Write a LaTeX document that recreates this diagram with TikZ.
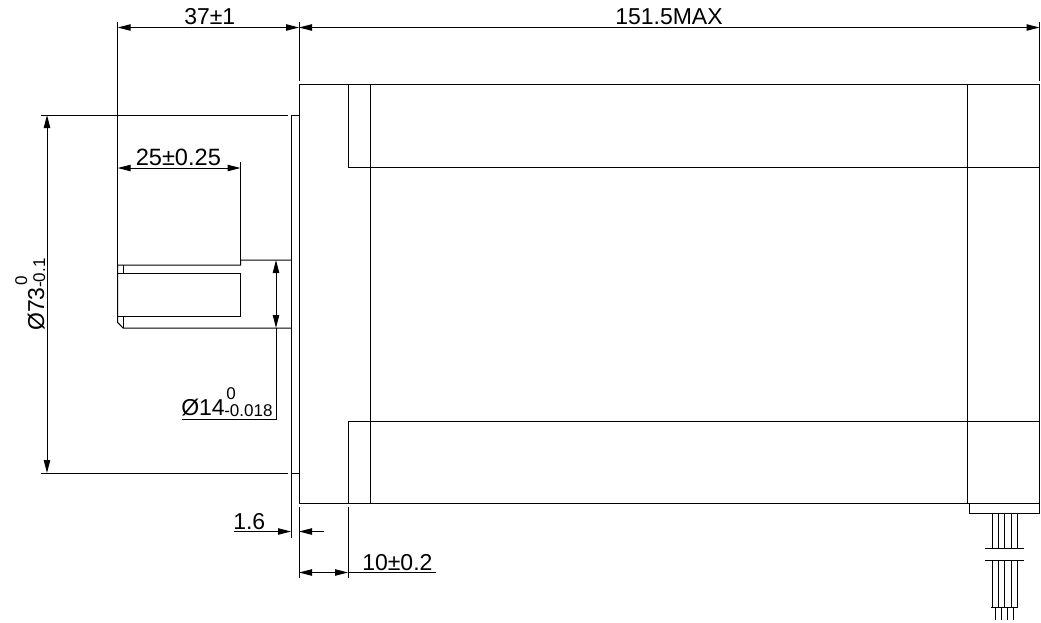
\documentclass[tikz,border=0pt]{standalone}
\usepackage{fontspec}
\setmainfont{Liberation Sans}
\usetikzlibrary{arrows.meta}
\tikzset{
  part/.style={line width=0.75pt,black,line cap=butt},
  dimline/.style={line width=0.75pt,black},
  tip/.style={arrows={-Triangle[length=9.75pt,width=4.8pt]}},
  tips/.style={arrows={Triangle[length=9.75pt,width=4.8pt]-Triangle[length=9.75pt,width=4.8pt]}},
  dimtext/.style={inner sep=0pt,font=\fontsize{17.25}{20}\selectfont,anchor=base west},
  smalltext/.style={inner sep=0pt,font=\fontsize{12.75}{15}\selectfont,anchor=base west},
}
\begin{document}
\begin{tikzpicture}[x=0.75pt,y=-0.75pt]
\useasboundingbox (0,0) rectangle (1041,622);
% motor body
\draw[part] (299,84) rectangle (1039.5,503);
\draw[part] (348,84) -- (348,167) -- (1039.5,167);
\draw[part] (348,503) -- (348,421) -- (1039.5,421);
\draw[part] (370.5,84) -- (370.5,503);
\draw[part] (967.5,84) -- (967.5,503);
% flange
\draw[part] (299,115) -- (291,115) -- (291,538);
\draw[part] (291,473) -- (299,473);
% shaft
\draw[part] (291,260) -- (240.5,260) -- (240.5,265) -- (117.7,265) -- (117.7,322.5) -- (123,328) -- (291,328);
\draw[part] (123,265) -- (123,273);
\draw[part] (123,316) -- (123,328);
\draw[part] (117.7,273) -- (240.5,273) -- (240.5,316) -- (117.7,316);
% wires
\draw[part] (969.5,503) -- (969.5,513.5) -- (1039.5,513.5) -- (1039.5,503);
\foreach \wx in {992,998,1004.7,1011,1017}{
  \draw[part] (\wx,513.5) -- (\wx,548.7);
  \draw[part] (\wx,560) -- (\wx,607);
}
\draw[part] (985,548.7) -- (1024,548.7);
\draw[part] (985,560) -- (1024,560);
\draw[part] (991,607) -- (1018,607);
\foreach \wx in {995,1001.3,1007.7,1013.7}{
  \draw[part] (\wx,607) -- (\wx,619.5);
}
% extension lines
\draw[dimline] (117.7,22) -- (117.7,265);
\draw[dimline] (299,22) -- (299,81);
\draw[dimline] (1039.5,22) -- (1039.5,81);
\draw[dimline] (240.5,162) -- (240.5,260);
\draw[dimline] (41,115) -- (288,115);
\draw[dimline] (41,473) -- (288,473);
\draw[dimline] (299,507) -- (299,578);
\draw[dimline] (348,507) -- (348,578);
% dimension anchors
\coordinate (a37l) at (117.7,27.5);
\coordinate (a37r) at (299,27.5);
\coordinate (a151r) at (1039.5,27.5);
\coordinate (a25l) at (117.7,168);
\coordinate (a25r) at (240.5,168);
\coordinate (a73t) at (47,115);
\coordinate (a73b) at (47,473);
\coordinate (a14t) at (276,260);
\coordinate (a14b) at (276,328);
\coordinate (a14e) at (276,419);
\coordinate (a14u) at (182,419);
\coordinate (a16s) at (234,531.5);
\coordinate (a16l) at (291,531.5);
\coordinate (a16r) at (299,531.5);
\coordinate (a16e) at (324,531.5);
\coordinate (a10l) at (299,572.5);
\coordinate (a10r) at (348,572.5);
\coordinate (a10e) at (436,572.5);
% dimension lines
\draw[dimline,tips] (a37l) -- (a37r);
\draw[dimline,tips] (a37r) -- (a151r);
\draw[dimline,tips] (a25l) -- (a25r);
\draw[dimline,tips] (a73t) -- (a73b);
\draw[dimline,tips] (a14t) -- (a14b);
\draw[dimline] (a14b) -- (a14e) -- (a14u);
\draw[dimline,tip] (a16s) -- (a16l);
\draw[dimline,tip] (a16e) -- (a16r);
\draw[dimline,tips] (a10l) -- (a10r);
\draw[dimline] (a10r) -- (a10e);
% labels
\node[dimtext] (t37) at (184,24) {37±1};
\node[dimtext] (t151) at (615,24) {151.5MAX};
\node[dimtext,font=\fontsize{17.7}{20}\selectfont] (t25) at (135.5,165) {25±0.25};
\node[dimtext] (t16) at (233,529) {1.6};
\node[dimtext] (t10) at (362,570) {10±0.2};
\node[dimtext] (t14) at (181,415.5) {Ø14};
\node[smalltext] (t14u) at (226,399.5) {0};
\node[smalltext] (t14l) at (224,416) {-0.018};
\node[dimtext,rotate=90] (t73) at (44,331) {Ø73};
\node[smalltext,rotate=90] (t73u) at (27,286) {0};
\node[smalltext,rotate=90] (t73l) at (45,288) {-0.1};
\end{tikzpicture}
\end{document}
